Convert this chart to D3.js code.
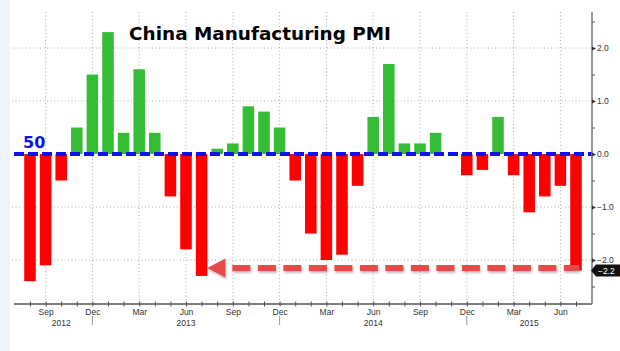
<!DOCTYPE html>
<html>
<head>
<meta charset="utf-8">
<script src="https://cdnjs.cloudflare.com/ajax/libs/d3/7.8.5/d3.min.js"></script>
<style>
  body { margin: 0; background: #fff; }
  .tick text { font-family: "Liberation Sans", Arial, sans-serif; font-size: 8.5px; fill: #333; }
</style>
</head>
<body>
<div id="chart"></div>
<script>
const W = 620, H = 351;
// PMI minus 50, monthly
const months = ["2012-08","2012-09","2012-10","2012-11","2012-12",
  "2013-01","2013-02","2013-03","2013-04","2013-05","2013-06","2013-07","2013-08","2013-09","2013-10","2013-11","2013-12",
  "2014-01","2014-02","2014-03","2014-04","2014-05","2014-06","2014-07","2014-08","2014-09","2014-10","2014-11","2014-12",
  "2015-01","2015-02","2015-03","2015-04","2015-05","2015-06","2015-07"]
const values = [-2.4, -2.1, -0.5, 0.5, 1.5,
  2.3, 0.4, 1.6, 0.4, -0.8, -1.8, -2.3, 0.1, 0.2, 0.9, 0.8, 0.5,
  -0.5, -1.5, -2.0, -1.9, -0.6, 0.7, 1.7, 0.2, 0.2, 0.4, 0.0, -0.4,
  -0.3, 0.7, -0.4, -1.1, -0.8, -0.6, -2.2]
const monthNames = {"03": "Mar", "06": "Jun", "09": "Sep", "12": "Dec"}
const yTicks = [-2, -1, 0, 1, 2]
const yMinor = [-2.5, -1.5, -0.5, 0.5, 1.5, 2.5]
const title = "China Manufacturing PMI"
const baseLabel = "50"

const PLOT = { left: 14, right: 592, top: 12, bottom: 304 }
const colorUp = '#35bd35', colorDown = '#ff0000', colorBase = '#1010ee', colorArrow = '#e84848'

const svg = d3.select("#chart").append("svg").attr("width", W).attr("height", H)
svg.append("rect").attr("width", W).attr("height", H).attr("fill", "#fff")
svg.append("rect").attr("width", 10).attr("height", H).attr("fill", "#eef3fc")

const defs = svg.append("defs")
defs.append("filter").attr("id", "shadow").attr("x", "-10%").attr("y", "-50%").attr("width", "120%").attr("height", "200%")
  .append("feDropShadow").attr("dx", 1).attr("dy", 2).attr("stdDeviation", 1)
  .attr("flood-color", "#777").attr("flood-opacity", 0.5)

const x = d3.scalePoint().domain(months).range([30, 576])
const y = d3.scaleLinear().domain([-2.83, 2.68]).range([PLOT.bottom, PLOT.top])
const barW = x.step() * 0.74

const quarterMonths = months.filter(m => monthNames[m.slice(5)])

// grid
svg.append("g").selectAll("line").data(quarterMonths).join("line")
  .attr("x1", d => x(d)).attr("x2", d => x(d))
  .attr("y1", PLOT.top).attr("y2", PLOT.bottom)
  .attr("stroke", "#aaa").attr("stroke-dasharray", "1,2.5")
svg.append("g").selectAll("line").data(yTicks.filter(d => d !== 0)).join("line")
  .attr("x1", PLOT.left - 2).attr("x2", PLOT.right)
  .attr("y1", d => y(d)).attr("y2", d => y(d))
  .attr("stroke", "#aaa").attr("stroke-dasharray", "1,2.5")

// bars
svg.append("g").selectAll("rect").data(months).join("rect")
  .attr("x", d => x(d) - barW / 2)
  .attr("width", barW)
  .attr("y", (d, i) => y(Math.max(0, values[i])))
  .attr("height", (d, i) => Math.abs(y(values[i]) - y(0)))
  .attr("fill", (d, i) => values[i] >= 0 ? colorUp : colorDown)

// 50 baseline
svg.append("line")
  .attr("x1", PLOT.left).attr("x2", PLOT.right)
  .attr("y1", y(0)).attr("y2", y(0))
  .attr("stroke", colorBase).attr("stroke-width", 4).attr("stroke-dasharray", "10,4")
svg.append("text").attr("x", 23).attr("y", y(0) - 6).text(baseLabel)
  .attr("font-family", "DejaVu Sans, sans-serif").attr("font-weight", "bold")
  .attr("font-size", 16).attr("fill", colorBase)

// x axis
const xAxisG = svg.append("g").attr("transform", "translate(0," + PLOT.bottom + ")")
  .call(d3.axisBottom(x).tickValues(months).tickSize(2.5).tickPadding(2)
    .tickFormat(d => monthNames[d.slice(5)] || ""))
xAxisG.select(".domain").attr("d", "M" + PLOT.left + ",0H" + PLOT.right).attr("stroke", "#555").attr("stroke-width", 1.3)
xAxisG.selectAll(".tick line").attr("y1", -2.5).attr("stroke", "#555")

// year labels and separators
const years = Array.from(new Set(months.map(m => m.slice(0, 4))))
years.forEach(yr => {
  const ms = months.filter(m => m.startsWith(yr))
  const mid = ms[Math.floor((ms.length - 1) / 2)]
  svg.append("text").attr("x", x(mid)).attr("y", PLOT.bottom + 22)
    .attr("text-anchor", "middle").text(yr)
    .attr("font-family", "Liberation Sans, Arial, sans-serif").attr("font-size", 8.5).attr("fill", "#333")
  const last = ms[ms.length - 1]
  if (last.endsWith("-12")) {
    svg.append("line").attr("x1", x(last)).attr("x2", x(last))
      .attr("y1", PLOT.bottom + 12).attr("y2", PLOT.bottom + 21)
      .attr("stroke", "#999")
  }
})

// y axis (right)
const yAxisG = svg.append("g").attr("transform", "translate(" + PLOT.right + ",0)")
  .call(d3.axisRight(y).tickValues(yTicks).tickSize(0).tickPadding(5).tickFormat(d3.format(".1f")))
yAxisG.select(".domain").attr("d", "M0," + PLOT.top + "V" + PLOT.bottom).attr("stroke", "#777").attr("stroke-width", 1.5)
yAxisG.selectAll(".tick").append("path").attr("d", "M0,-2L4,0L0,2Z").attr("fill", "#333")
svg.append("g").attr("transform", "translate(" + PLOT.right + ",0)")
  .call(d3.axisRight(y).tickValues(yMinor).tickSize(3).tickFormat(""))
  .call(g => g.select(".domain").remove())
  .selectAll("line").attr("stroke", "#555")

// last value label
const lastVal = values[values.length - 1]
const ly = y(lastVal)
svg.append("path").attr("d", "M591," + ly + "L596," + (ly - 6) + "H622V" + (ly + 6) + "H596Z").attr("fill", "#111")
svg.append("text").attr("x", 598).attr("y", ly + 3).text(d3.format(".1f")(lastVal))
  .attr("font-family", "Liberation Sans, Arial, sans-serif").attr("font-size", 8.5).attr("fill", "#fff")

// arrow from latest value back to Jul 2013 low
const lowIdx = months.indexOf("2013-07")
const ay = ly - 2.5
const tipX = x(months[lowIdx]) + barW / 2
const arrow = svg.append("g").attr("filter", "url(#shadow)")
arrow.append("line").attr("x1", tipX + 25).attr("x2", x(months[months.length - 1]) + 3)
  .attr("y1", ay).attr("y2", ay)
  .attr("stroke", colorArrow).attr("stroke-width", 6).attr("stroke-dasharray", "18,7.5")
arrow.append("path")
  .attr("d", "M" + tipX + "," + ay + "L" + (tipX + 18) + "," + (ay - 9.5) + "V" + (ay + 9.5) + "Z")
  .attr("fill", colorArrow)

// title
const t = svg.append("text").attr("x", 260).attr("y", 40).attr("text-anchor", "middle").text(title)
  .attr("font-family", "DejaVu Sans, sans-serif").attr("font-weight", "bold").attr("font-size", 20).attr("fill", "#000")
const tl = t.node().getComputedTextLength()
t.attr("font-size", 20 * 262 / tl)
</script>
</body>
</html>
